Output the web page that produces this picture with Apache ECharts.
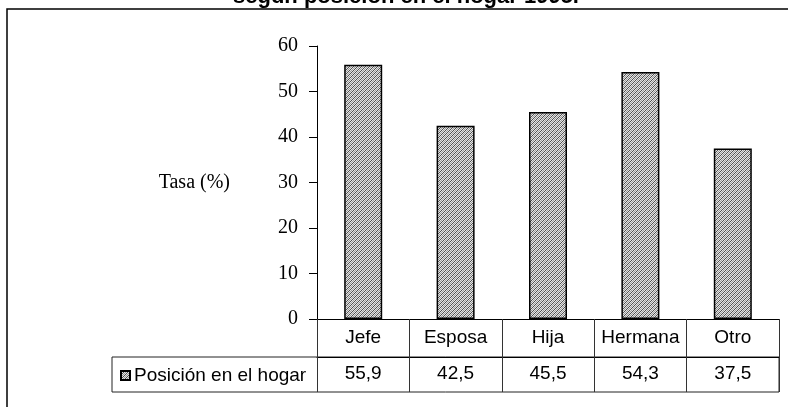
<!DOCTYPE html>
<html>
<head>
<meta charset="utf-8">
<script src="https://cdn.jsdelivr.net/npm/echarts@6/dist/echarts.min.js"></script>
<style>html,body{margin:0;padding:0;background:#fff;}#c{width:788px;height:407px;}</style>
</head>
<body>
<div id="c"></div>
<script>
const titleText = 'según posición en el hogar 1995.';
const categories = ['Jefe', 'Esposa', 'Hija', 'Hermana', 'Otro'];
const values = [55.9, 42.5, 45.5, 54.3, 37.5];
const seriesName = 'Posición en el hogar';
const yTicks = [0, 10, 20, 30, 40, 50, 60];
const yName = 'Tasa (%)';

const pc = document.createElement('canvas');
pc.width = 4; pc.height = 4;
const px = pc.getContext('2d');
px.fillStyle = '#e4e4e4'; px.fillRect(0, 0, 4, 4);
px.fillStyle = '#505050';
for (let i = 0; i < 4; i++) px.fillRect(i, 3 - i, 1, 1);
px.fillStyle = '#9a9a9a';
for (let i = 0; i < 4; i++) px.fillRect(i, (5 - i) % 4, 1, 1);
const pattern = { image: pc, repeat: 'repeat' };

const chart = echarts.init(document.getElementById('c'));
const fmt = v => v.toFixed(1).replace('.', ',');
chart.setOption({
  animation: false,
  title: {
    text: titleText, left: 228, top: -19,
    textStyle: { fontFamily: 'Liberation Sans', fontWeight: 'bold', fontSize: 22, color: '#000' }
  },
  legend: {
    left: 115, top: 361, itemWidth: 9, itemHeight: 9, itemGap: 4,
    icon: 'rect',
    textStyle: { fontFamily: 'Liberation Sans', fontSize: 19, color: '#000', padding: [0, 0, 0, -1] },
    data: [seriesName]
  },
  grid: { left: 317, right: 9, top: 46, bottom: 88, containLabel: false },
  xAxis: [{
    type: 'category', data: categories, position: 'bottom',
    axisLine: { lineStyle: { color: '#000', width: 1 } },
    axisTick: { show: true, inside: false, length: 73, interval: 0, alignWithLabel: false, lineStyle: { color: '#333' } },
    axisLabel: { interval: 0, margin: 19, verticalAlign: 'middle', fontFamily: 'Liberation Sans', fontSize: 19, color: '#000' }
  }, {
    type: 'category', data: categories, position: 'bottom', offset: 38,
    axisLine: { lineStyle: { color: '#000', width: 1 } },
    axisTick: { show: false },
    axisLabel: { interval: 0, margin: 17, verticalAlign: 'middle', fontFamily: 'Liberation Sans', fontSize: 19, color: '#000',
      formatter: (v, i) => fmt(values[i]) }
  }],
  yAxis: {
    type: 'value', min: 0, max: 60, interval: 10,
    name: yName, nameLocation: 'middle', nameRotate: 0, nameGap: 87,
    nameTextStyle: { fontFamily: 'Liberation Serif', fontSize: 20, color: '#000', align: 'right', verticalAlign: 'middle' },
    axisLine: { show: true, lineStyle: { color: '#000', width: 1 } },
    axisTick: { show: true, inside: false, length: 8, lineStyle: { color: '#000' } },
    axisLabel: { margin: 19, fontFamily: 'Liberation Serif', fontSize: 20, color: '#000',
      formatter: v => yTicks.includes(v) ? String(v) : '' },
    splitLine: { show: false }
  },
  series: [{
    name: seriesName, type: 'bar', data: values, barWidth: 38,
    itemStyle: { color: pattern, borderColor: '#000', borderWidth: 1.5 }
  }],
  graphic: [
    { type: 'rect', silent: true, shape: { x: 7, y: 9, width: 820, height: 440 },
      style: { fill: 'none', stroke: '#000', lineWidth: 1.5 } },
    { type: 'rect', silent: true, shape: { x: 112, y: 357, width: 667, height: 35 },
      style: { fill: 'none', stroke: '#222', lineWidth: 1 } }
  ]
});
</script>
</body>
</html>
